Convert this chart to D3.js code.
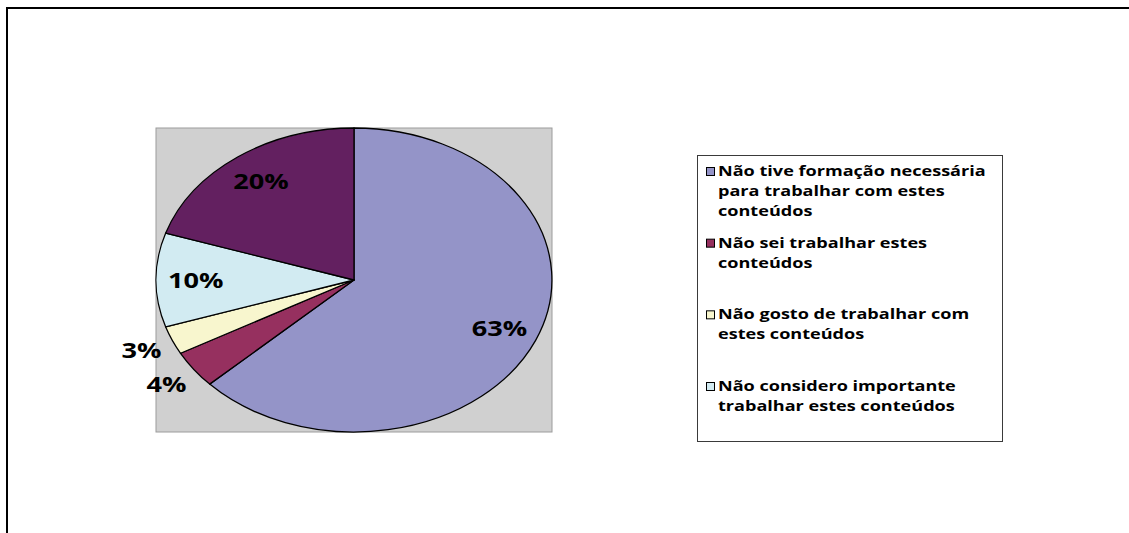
<!DOCTYPE html>
<html>
<head>
<meta charset="utf-8">
<script src="https://cdn.jsdelivr.net/npm/d3@7/dist/d3.min.js"></script>
<style>
  html, body { margin: 0; padding: 0; background: #fff; }
  svg { display: block; }
</style>
</head>
<body>
<svg id="chart" width="1129" height="533"></svg>
<script>
// Reasons given for not working with the contents (share of answers, %)
const categories = [
  "Não tive formação necessária para trabalhar com estes conteúdos",
  "Não sei trabalhar estes conteúdos",
  "Não gosto de trabalhar com estes conteúdos",
  "Não considero importante trabalhar estes conteúdos",
  ""
];
const values = [63, 4, 3, 10, 20];
const valueLabels = ["63%", "4%", "3%", "10%", "20%"];
// Legend text, wrapped as it is laid out in the legend box
const legendLines = [
  ["Não tive formação necessária", "para trabalhar com estes", "conteúdos"],
  ["Não sei trabalhar estes", "conteúdos"],
  ["Não gosto de trabalhar com", "estes conteúdos"],
  ["Não considero importante", "trabalhar estes conteúdos"]
];
const colors = ["#9494c8", "#96305f", "#f8f6ce", "#d2ebf2", "#632060"];

const W = 1129, H = 533;
const svg = d3.select("#chart");
const FONT = "'Open Sans', 'DejaVu Sans', sans-serif";
const LEGEND_SIZE = 14;

// chart frame (extends past the right and bottom edges)
svg.append("rect")
  .attr("x", 7).attr("y", 8)
  .attr("width", W + 20).attr("height", H + 20)
  .attr("fill", "#fff").attr("stroke", "#000").attr("stroke-width", 2);

// plot area
const plot = { x0: 156, x1: 552, y0: 128, y1: 432 };
svg.append("rect")
  .attr("x", plot.x0).attr("y", plot.y0)
  .attr("width", plot.x1 - plot.x0).attr("height", plot.y1 - plot.y0)
  .attr("fill", "#d0d0d0").attr("stroke", "#9c9c9c").attr("stroke-width", 1);

// elliptical pie fitted to the plot area
const cx = (plot.x0 + plot.x1) / 2, cy = (plot.y0 + plot.y1) / 2;
const rx = (plot.x1 - plot.x0) / 2, ry = (plot.y1 - plot.y0) / 2;
const xs = d3.scaleLinear().domain([-1, 1]).range([cx - rx, cx + rx]);
const ys = d3.scaleLinear().domain([-1, 1]).range([cy - ry, cy + ry]);

const pie = d3.pie().sort(null).value(d => d).startAngle(0).endAngle(2 * Math.PI);
const arcs = pie(values);
const arc = d3.arc().innerRadius(0).outerRadius(1);

const pieG = svg.append("g")
  .attr("transform", `translate(${cx},${cy}) scale(${rx},${ry})`);
pieG.selectAll("path")
  .data(arcs)
  .join("path")
  .attr("d", arc)
  .attr("fill", (d, i) => colors[i])
  .attr("stroke", "#000")
  .attr("stroke-width", 1.3)
  .attr("stroke-linejoin", "round")
  .attr("vector-effect", "non-scaling-stroke");

// horizontal stretch used for all text, derived from the legend's widest line
const probe = svg.append("text")
  .attr("font-family", FONT).attr("font-weight", 700).attr("font-size", LEGEND_SIZE)
  .text(legendLines[0][0]);
const sx = 268 / probe.node().getComputedTextLength();
probe.remove();

// data labels: inside for larger slices, outside for the thin ones
const labelG = svg.append("g");
arcs.forEach((d, i) => {
  const a = (d.startAngle + d.endAngle) / 2;
  const r = values[i] < 5 ? 1.17 : 0.8;
  const x = xs(r * Math.sin(a));
  const y = ys(-r * Math.cos(a));
  labelG.append("g")
    .attr("transform", `translate(${x},${y}) scale(${sx},1)`)
    .append("text")
    .attr("text-anchor", "middle")
    .attr("dy", 7.5)
    .attr("font-family", FONT)
    .attr("font-weight", 700)
    .attr("font-size", 21)
    .attr("fill", "#000")
    .text(valueLabels[i]);
});

// legend
const legendBox = { x0: 697, x1: 1002, y0: 155, y1: 441 };
svg.append("rect")
  .attr("x", legendBox.x0 + 0.5).attr("y", legendBox.y0 + 0.5)
  .attr("width", legendBox.x1 - legendBox.x0).attr("height", legendBox.y1 - legendBox.y0)
  .attr("fill", "#fff").attr("stroke", "#3a3a3a").attr("stroke-width", 1);

const entryY = d3.scaleLinear().domain([0, legendLines.length - 1]).range([176, 391]);
const lineStep = 20;

legendLines.forEach((lines, i) => {
  const by = entryY(i);
  svg.append("rect")
    .attr("x", 706.5).attr("y", by - 8.5)
    .attr("width", 8).attr("height", 8)
    .attr("fill", colors[i]).attr("stroke", "#000").attr("stroke-width", 1);
  const g = svg.append("g")
    .attr("transform", `translate(718,${by}) scale(${sx},1)`);
  const t = g.append("text")
    .attr("font-family", FONT)
    .attr("font-weight", 700)
    .attr("font-size", LEGEND_SIZE)
    .attr("fill", "#000");
  lines.forEach((ln, j) => {
    t.append("tspan").attr("x", 0).attr("y", j * lineStep).text(ln);
  });
});
</script>
</body>
</html>
